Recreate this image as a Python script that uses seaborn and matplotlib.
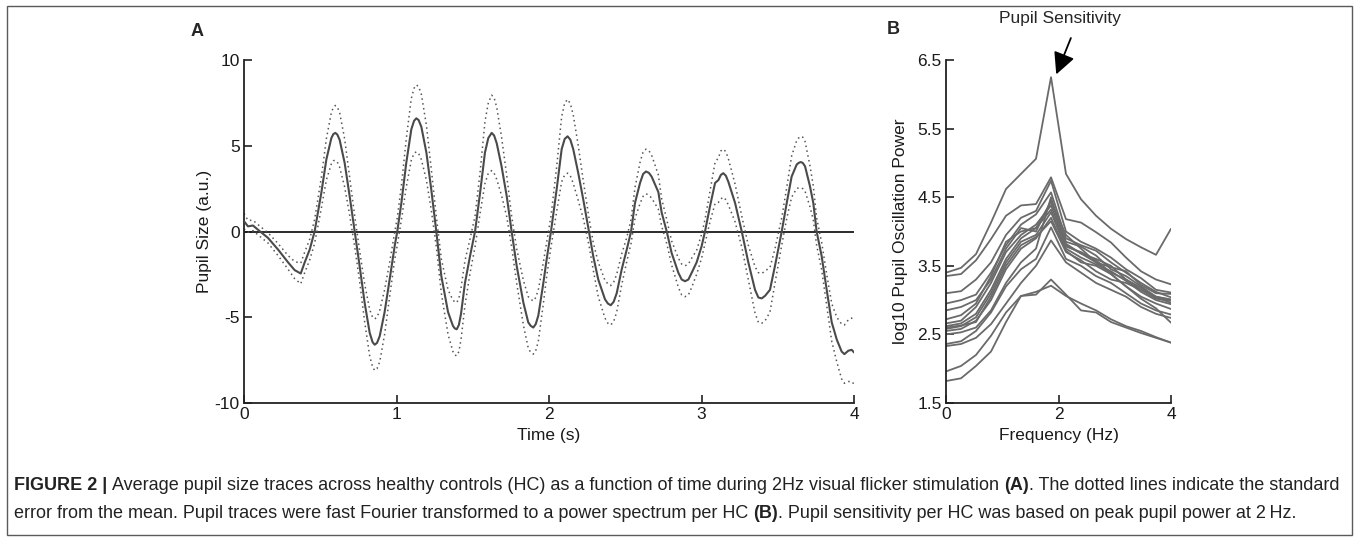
import numpy as np
import pandas as pd
import matplotlib
matplotlib.use("Agg")
import matplotlib.pyplot as plt
from matplotlib import font_manager
from matplotlib.patches import Rectangle
import seaborn as sns

# Panel A: average pupil trace (a.u.) and its standard error
time_s = [0.000, 0.026, 0.059, 0.092, 0.157, 0.223, 0.289, 0.332, 0.372, 0.398,
          0.431, 0.463, 0.507, 0.540, 0.573, 0.586, 0.599, 0.612, 0.627, 0.660,
          0.693, 0.726, 0.758, 0.791, 0.824, 0.843, 0.857, 0.872, 0.890, 0.922,
          0.955, 0.988, 1.005, 1.032, 1.064, 1.097, 1.115, 1.130, 1.145, 1.163,
          1.196, 1.228, 1.261, 1.294, 1.338, 1.370, 1.382, 1.395, 1.409, 1.423,
          1.449, 1.482, 1.515, 1.548, 1.580, 1.602, 1.624, 1.640, 1.657, 1.689,
          1.723, 1.755, 1.788, 1.832, 1.864, 1.880, 1.897, 1.913, 1.930, 1.963,
          1.985, 2.013, 2.050, 2.083, 2.103, 2.122, 2.140, 2.159, 2.192, 2.225,
          2.262, 2.290, 2.323, 2.367, 2.386, 2.405, 2.424, 2.444, 2.477, 2.510,
          2.538, 2.564, 2.597, 2.617, 2.636, 2.655, 2.673, 2.717, 2.739, 2.772,
          2.804, 2.848, 2.870, 2.892, 2.914, 2.936, 2.968, 3.001, 3.023, 3.056,
          3.089, 3.111, 3.127, 3.143, 3.160, 3.176, 3.220, 3.264, 3.307, 3.351,
          3.373, 3.395, 3.417, 3.449, 3.482, 3.526, 3.559, 3.591, 3.624, 3.637,
          3.650, 3.664, 3.679, 3.711, 3.733, 3.755, 3.788, 3.821, 3.854, 3.887,
          3.919, 3.937, 3.963, 3.985, 4.000]

mean_trace = [0.60, 0.30, 0.35, 0.10, -0.37, -1.05, -1.80, -2.25, -2.45, -1.80,
              -1.05, 0.00, 2.25, 4.20, 5.45, 5.68, 5.75, 5.65, 5.35, 4.00,
              2.05, 0.00, -2.00, -4.15, -5.90, -6.45, -6.60, -6.50, -6.10, -4.70,
              -2.80, -0.85, 0.00, 1.67, 4.00, 5.95, 6.45, 6.60, 6.50, 6.10,
              4.60, 2.45, 0.00, -2.60, -4.70, -5.50, -5.65, -5.70, -5.45, -4.80,
              -3.00, -1.44, 0.00, 2.25, 4.60, 5.45, 5.75, 5.60, 5.15, 3.80,
              2.05, 0.00, -2.00, -4.15, -5.30, -5.50, -5.60, -5.40, -4.90, -3.00,
              -1.60, 0.00, 2.45, 4.80, 5.40, 5.55, 5.35, 4.80, 3.40, 1.85,
              0.00, -1.44, -2.80, -3.95, -4.20, -4.30, -4.10, -3.60, -2.20, -1.05,
              0.00, 1.67, 2.83, 3.35, 3.50, 3.42, 3.20, 2.30, 1.10, 0.00,
              -1.25, -2.40, -2.80, -2.90, -2.80, -2.40, -1.80, -0.85, 0.00, 1.48,
              2.83, 3.00, 3.30, 3.40, 3.25, 2.90, 1.67, 0.00, -1.80, -3.40,
              -3.85, -3.90, -3.75, -3.40, -2.00, 0.00, 1.67, 3.20, 3.90, 4.00,
              4.05, 4.00, 3.80, 2.65, 1.67, 0.00, -1.44, -3.40, -5.30, -6.30,
              -7.00, -7.15, -6.95, -6.90, -7.05]

sem_trace = [0.45, 0.35, 0.30, 0.30, 0.30, 0.35, 0.40, 0.50, 0.60, 0.60,
             0.60, 0.70, 0.90, 1.20, 1.50, 1.55, 1.60, 1.60, 1.60, 1.40,
             1.10, 0.90, 0.90, 1.10, 1.35, 1.45, 1.50, 1.50, 1.50, 1.30,
             1.00, 0.80, 0.80, 1.00, 1.40, 1.80, 1.90, 1.95, 1.95, 1.90,
             1.60, 1.20, 0.90, 1.00, 1.30, 1.50, 1.55, 1.55, 1.55, 1.50,
             1.30, 1.00, 0.90, 1.20, 1.80, 2.05, 2.20, 2.20, 2.10, 1.70,
             1.20, 0.90, 1.00, 1.30, 1.50, 1.55, 1.55, 1.55, 1.50, 1.20,
             1.00, 0.90, 1.30, 1.90, 2.10, 2.15, 2.10, 2.00, 1.60, 1.10,
             0.80, 0.80, 1.00, 1.10, 1.15, 1.15, 1.15, 1.10, 0.90, 0.70,
             0.70, 0.90, 1.20, 1.30, 1.30, 1.30, 1.25, 1.00, 0.80, 0.70,
             0.70, 0.85, 0.90, 0.90, 0.90, 0.85, 0.70, 0.70, 0.70, 0.90,
             1.20, 1.30, 1.40, 1.40, 1.40, 1.35, 1.10, 0.90, 1.00, 1.35,
             1.45, 1.45, 1.45, 1.30, 1.00, 0.80, 0.90, 1.20, 1.40, 1.45,
             1.50, 1.50, 1.45, 1.20, 1.00, 0.80, 0.80, 0.90, 1.10, 1.30,
             1.60, 1.70, 1.80, 1.85, 1.85]

# Panel B: log10 pupil oscillation power per healthy control
freq_hz = [0.000, 0.267, 0.533, 0.800, 1.067, 1.333, 1.600, 1.867,
           2.133, 2.400, 2.667, 2.933, 3.200, 3.467, 3.733, 4.000]

power_hc = {
    "HC01": [3.40, 3.47, 3.67, 4.13, 4.62, 4.84, 5.06, 6.25, 4.84, 4.47, 4.23, 4.04, 3.89, 3.77, 3.66, 4.04],
    "HC02": [3.35, 3.38, 3.58, 3.89, 4.23, 4.38, 4.40, 4.79, 4.18, 4.13, 3.99, 3.84, 3.62, 3.42, 3.30, 3.23],
    "HC03": [3.10, 3.13, 3.30, 3.55, 3.95, 4.20, 4.30, 4.74, 4.00, 3.85, 3.75, 3.62, 3.45, 3.32, 3.15, 3.11],
    "HC04": [2.95, 3.00, 3.08, 3.40, 3.80, 4.10, 4.25, 4.57, 3.90, 3.80, 3.72, 3.55, 3.40, 3.25, 3.12, 3.04],
    "HC05": [2.85, 2.90, 3.00, 3.30, 3.75, 4.05, 4.00, 4.45, 3.85, 3.78, 3.65, 3.45, 3.35, 3.20, 3.05, 3.01],
    "HC06": [2.72, 2.78, 2.95, 3.35, 3.85, 4.00, 4.05, 4.43, 3.95, 3.75, 3.55, 3.48, 3.42, 3.22, 3.10, 3.09],
    "HC07": [2.66, 2.70, 2.90, 3.25, 3.70, 3.95, 4.10, 4.38, 3.82, 3.68, 3.60, 3.50, 3.30, 3.15, 3.02, 2.99],
    "HC08": [2.62, 2.66, 2.80, 3.15, 3.60, 3.90, 4.05, 4.32, 3.78, 3.70, 3.58, 3.40, 3.30, 3.18, 3.04, 2.96],
    "HC09": [2.58, 2.62, 2.75, 3.10, 3.55, 3.85, 3.95, 4.28, 3.75, 3.62, 3.52, 3.42, 3.28, 3.12, 3.00, 2.94],
    "HC10": [2.55, 2.58, 2.70, 3.00, 3.45, 3.75, 3.90, 4.20, 3.72, 3.55, 3.50, 3.38, 3.20, 3.05, 2.95, 2.87],
    "HC11": [2.60, 2.63, 2.68, 3.05, 3.50, 3.80, 3.92, 4.15, 3.70, 3.58, 3.42, 3.30, 3.25, 3.15, 3.05, 3.00],
    "HC12": [2.36, 2.40, 2.55, 2.82, 3.20, 3.45, 3.60, 4.06, 3.60, 3.50, 3.35, 3.25, 3.10, 2.95, 2.85, 2.79],
    "HC13": [2.33, 2.36, 2.45, 2.65, 2.95, 3.25, 3.50, 3.87, 3.55, 3.40, 3.25, 3.15, 3.05, 2.90, 2.80, 2.74],
    "HC14": [2.50, 2.53, 2.60, 2.85, 3.25, 3.55, 3.75, 4.50, 3.80, 3.68, 3.55, 3.38, 3.20, 3.02, 2.88, 2.67],
    "HC15": [1.96, 2.04, 2.20, 2.48, 2.82, 3.06, 3.08, 3.30, 3.08, 2.85, 2.82, 2.68, 2.60, 2.52, 2.45, 2.38],
    "HC16": [1.82, 1.86, 2.04, 2.25, 2.68, 3.06, 3.12, 3.21, 3.06, 2.95, 2.85, 2.72, 2.62, 2.55, 2.46, 2.38],
}

caption_line1 = [("FIGURE 2 |", "bold"),
                 ("Average pupil size traces across healthy controls (HC) as a function of time during 2Hz visual flicker stimulation", "normal"),
                 ("(A)", "bold"),
                 (". The dotted lines indicate the standard", "normal")]
caption_line2 = [("error from the mean. Pupil traces were fast Fourier transformed to a power spectrum per HC", "normal"),
                 ("(B)", "bold"),
                 (". Pupil sensitivity per HC was based on peak pupil power at 2\u2009Hz.", "normal")]

sns.set_style("ticks")
plt.rcParams["font.family"] = ["Liberation Sans", "DejaVu Sans"]
plt.rcParams["axes.unicode_minus"] = False

W, H = 1357, 540
fig = plt.figure(figsize=(W / 100, H / 100), dpi=100)

def px_axes(left, top, right, bottom):
    return fig.add_axes([left / W, 1 - bottom / H, (right - left) / W, (bottom - top) / H])

axA = px_axes(244, 60, 854, 403)
axB = px_axes(946, 60, 1171, 403)

spine_col = "#222222"
line_col = "#555555"

# ---- Panel A
upper = np.array(mean_trace) + np.array(sem_trace)
lower = np.array(mean_trace) - np.array(sem_trace)
axA.axhline(0, color="#1a1a1a", lw=1.3, zorder=1)
sns.lineplot(x=time_s, y=upper, ax=axA, color=line_col, lw=1.1,
             linestyle=(0, (1, 2.2)), zorder=2)
sns.lineplot(x=time_s, y=lower, ax=axA, color=line_col, lw=1.1,
             linestyle=(0, (1, 2.2)), zorder=2)
sns.lineplot(x=time_s, y=mean_trace, ax=axA, color="#4a4a4a", lw=1.5, zorder=3)
axA.set_xlim(0, 4)
axA.set_ylim(-10, 10)
axA.set_xticks([0, 1, 2, 3, 4])
axA.set_yticks([-10, -5, 0, 5, 10])
axA.set_xlabel("Time (s)", fontsize=12.5)
axA.set_ylabel("Pupil Size (a.u.)", fontsize=12.5)
axA.xaxis.set_label_coords(0.5, -0.072)
axA.yaxis.set_label_coords(-0.052, 0.5)

# ---- Panel B
spec = pd.DataFrame([(hc, f, p) for hc, vals in power_hc.items()
                     for f, p in zip(freq_hz, vals)],
                    columns=["subject", "freq", "power"])
sns.lineplot(data=spec, x="freq", y="power", units="subject", estimator=None,
             ax=axB, color="#6a6a6a", lw=1.3)
axB.set_xlim(0, 4)
axB.set_ylim(1.5, 6.5)
axB.set_xticks([0, 2, 4])
axB.set_yticks([1.5, 2.5, 3.5, 4.5, 5.5, 6.5])
axB.set_yticklabels(["1.5", "2.5", "3.5", "4.5", "5.5", "6.5"])
axB.set_xlabel("Frequency (Hz)", fontsize=12.5)
axB.set_ylabel("log10 Pupil Oscillation Power", fontsize=12.5)
axB.xaxis.set_label_coords(0.5, -0.072)
axB.yaxis.set_label_coords(-0.17, 0.5)
axB.annotate("", xy=(1.96, 6.29), xytext=(2.22, 6.82), annotation_clip=False,
             arrowprops=dict(arrowstyle="-|>,head_length=0.6,head_width=0.3",
                             color="black", lw=1.3,
                             mutation_scale=22, shrinkA=0, shrinkB=0))
fig.text(1060 / W, 1 - 18 / H, "Pupil Sensitivity", ha="center", va="center",
         fontsize=12.5)

for ax in (axA, axB):
    sns.despine(ax=ax)
    for s in ("left", "bottom"):
        ax.spines[s].set_color(spine_col)
        ax.spines[s].set_linewidth(1.3)
    ax.tick_params(direction="in", length=6, width=1.2, color=spine_col,
                   labelsize=12.5, labelcolor="#1a1a1a", pad=3)
    ax.xaxis.label.set_color("#1a1a1a")
    ax.yaxis.label.set_color("#1a1a1a")

fig.text(197 / W, 1 - 32 / H, "A", ha="center", va="center", fontsize=13, fontweight="bold")
fig.text(893 / W, 1 - 30 / H, "B", ha="center", va="center", fontsize=13, fontweight="bold")

# frame around the whole figure
fig.patches.append(Rectangle((7 / W, 1 - 535 / H), (1352 - 7) / W, (535 - 6) / H,
                             transform=fig.transFigure, fill=False,
                             edgecolor="#5a5a5a", lw=1.0))

# ---- caption, drawn piece by piece so bold parts stay inline
installed = {f.name for f in font_manager.fontManager.ttflist}
if "Liberation Sans Narrow" in installed:
    cap_family = ["Liberation Sans Narrow", "DejaVu Sans"]
else:
    cap_family = ["Liberation Sans", "DejaVu Sans"]
renderer = fig.canvas.get_renderer()

def text_width(s, weight, size):
    t = fig.text(0, 0, s, fontsize=size, fontweight=weight, family=cap_family)
    w = t.get_window_extent(renderer).width
    t.remove()
    return w

def line_width(pieces, size):
    sp = text_width("x x", "normal", size) - text_width("xx", "normal", size)
    total = 0
    for i, (s, weight) in enumerate(pieces):
        total += text_width(s, weight, size)
        nxt = pieces[i + 1][0] if i + 1 < len(pieces) else ""
        if nxt and not nxt.startswith("."):
            total += sp
    return total

# size the caption so the first line spans the frame like the original
cap_size = 11.0 * (1325 / line_width(caption_line1, 11.0))

def draw_line(pieces, x_px, y_px):
    sp = text_width("x x", "normal", cap_size) - text_width("xx", "normal", cap_size)
    x = x_px
    for i, (s, weight) in enumerate(pieces):
        t = fig.text(x / W, 1 - y_px / H, s, fontsize=cap_size, fontweight=weight,
                     family=cap_family, va="baseline", color="#222222")
        x += t.get_window_extent(renderer).width
        nxt = pieces[i + 1][0] if i + 1 < len(pieces) else ""
        if not nxt.startswith("."):
            x += sp

draw_line(caption_line1, 14, 490)
draw_line(caption_line2, 14, 518)

fig.savefig("out.png", dpi=100)
